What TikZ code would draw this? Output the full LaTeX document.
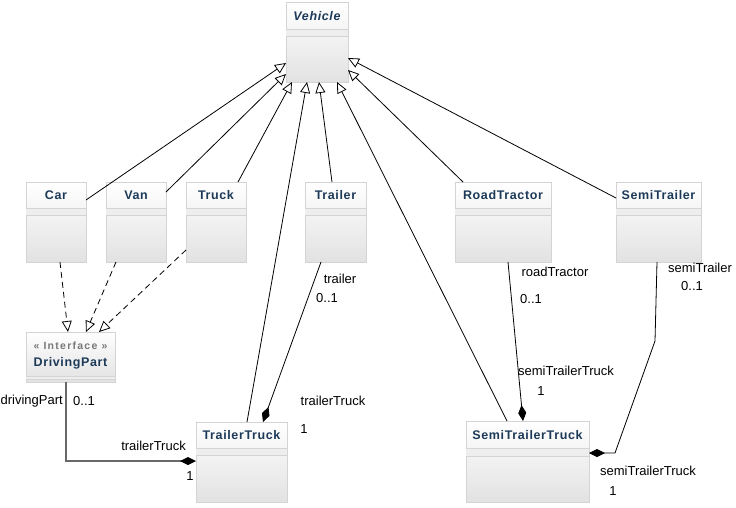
\documentclass[tikz,border=0pt]{standalone}
\usepackage{fontspec}
\setmainfont{Liberation Sans}
\newfontfamily\ttlfont[LetterSpace=5]{Liberation Sans}
\newfontfamily\sterfont[LetterSpace=12]{Liberation Sans}
\usetikzlibrary{arrows.meta,fit,calc}
\definecolor{ttl}{RGB}{28,58,88}
\definecolor{bord}{RGB}{212,212,212}
\definecolor{shadebot}{RGB}{226,226,226}
\definecolor{bandc}{RGB}{238,238,238}
\definecolor{stereo}{RGB}{120,120,120}
\definecolor{assoc}{RGB}{105,105,105}
\newcommand\classparts[3]{%
  \fill[bandc] ($(#1.north west)+(0.4,#2)$) rectangle ($(#1.north east)+(-0.4,#3)$);
  \draw[sepline] ($(#1.north west)+(0,#2)$) -- ($(#1.north east)+(0,#2)$);
  \draw[sepline] ($(#1.north west)+(0,#3)$) -- ($(#1.north east)+(0,#3)$);}
\begin{document}
\begin{tikzpicture}[x=1pt,y=-1pt,
  classbox/.style={draw=bord, line width=0.9pt, inner sep=0pt, outer sep=0pt,
    top color=white, bottom color=shadebot},
  sepline/.style={draw=bord, line width=0.9pt},
  ttlstyle/.style={font=\ttlfont\bfseries\fontsize{12.5}{14}\selectfont, text=ttl, inner sep=0pt},
  lbl/.style={font=\fontsize{13}{15}\selectfont, inner sep=0pt},
  gen/.style={draw=black, line width=0.8pt, -{Triangle[length=11pt,width=10pt,fill=white]}},
  real/.style={draw=black, line width=0.8pt, dash pattern=on 6pt off 4pt,
    -{Triangle[length=11pt,width=10pt,fill=white,sep=0pt]}},
  comp/.style={draw=black, line width=0.8pt, -{Diamond[length=16pt,width=8pt,fill=black]}},
  compg/.style={draw=assoc, line width=1.4pt, -{Diamond[length=16pt,width=8pt,fill=black,color=black]}},
]
\useasboundingbox (0,0) rectangle (736,507);
\fill[white] (0,0) rectangle (736,507);

% classes
\node[classbox, fit={(286,2)(348,82)}] (vehicle) {};
\classparts{vehicle}{27}{34}
\node[ttlstyle, font=\ttlfont\bfseries\itshape\fontsize{12.5}{14}\selectfont] (vehiclet) at ($(vehicle.north)+(0,14)$) {Vehicle};

\node[classbox, fit={(26,182)(86,262)}] (car) {};
\classparts{car}{26}{33}
\node[ttlstyle] (cart) at ($(car.north)+(0,13)$) {Car};

\node[classbox, fit={(106,182)(166,262)}] (van) {};
\classparts{van}{26}{33}
\node[ttlstyle] (vant) at ($(van.north)+(0,13)$) {Van};

\node[classbox, fit={(186,182)(246,262)}] (truck) {};
\classparts{truck}{26}{33}
\node[ttlstyle] (truckt) at ($(truck.north)+(0,13)$) {Truck};

\node[classbox, fit={(305,182)(366,262)}] (trailer) {};
\classparts{trailer}{26}{33}
\node[ttlstyle] (trailert) at ($(trailer.north)+(0,13)$) {Trailer};

\node[classbox, fit={(455,182)(551,262)}] (rt) {};
\classparts{rt}{26}{33}
\node[ttlstyle] (rtt) at ($(rt.north)+(0,13)$) {RoadTractor};

\node[classbox, fit={(616,182)(701,262)}] (st) {};
\classparts{st}{26}{33}
\node[ttlstyle] (stt0) at ($(st.north)+(0,13)$) {SemiTrailer};

\node[classbox, fit={(26,332)(115,382)}] (dp) {};
\classparts{dp}{44}{47}
\node[font=\sterfont\bfseries\fontsize{10.5}{12}\selectfont, text=stereo, inner sep=0pt] (dps) at ($(dp.north)+(0,14)$) {« Interface »};
\node[ttlstyle] (dpt) at ($(dp.north)+(0,31)$) {DrivingPart};

\node[classbox, fit={(196,422)(287,502)}] (tt) {};
\classparts{tt}{26}{33}
\node[ttlstyle] (ttt) at ($(tt.north)+(0,13)$) {TrailerTruck};

\node[classbox, fit={(466,421)(589,502)}] (stt) {};
\classparts{stt}{27}{35}
\node[ttlstyle] (sttt) at ($(stt.north)+(0,14)$) {SemiTrailerTruck};

% generalizations
\draw[gen] ($(car.north east)+(0,18)$) -- ($(vehicle.north west)+(0,61)$);
\draw[gen] ($(van.north east)+(0,10)$) -- ($(vehicle.north west)+(0,72)$);
\draw[gen] ($(truck.north east)+(-8,0)$) -- ($(vehicle.south west)+(6,0)$);
\draw[gen] ($(tt.north west)+(51,0)$) -- ($(vehicle.south west)+(21,0)$);
\draw[gen] ($(trailer.north west)+(27,0)$) -- ($(vehicle.south west)+(33,0)$);
\draw[gen] ($(stt.north west)+(41,0)$) -- ($(vehicle.south west)+(51,0)$);
\draw[gen] ($(rt.north west)+(8,0)$) -- ($(vehicle.north east)+(0,68)$);
\draw[gen] ($(st.north west)+(0,16)$) -- ($(vehicle.north east)+(0,56)$);

% realizations
\draw[real] ($(car.south west)+(34,0)$) -- ($(dp.north west)+(42,0)$);
\draw[real] ($(van.south west)+(10,0)$) -- ($(dp.north west)+(60,0)$);
\draw[real] ($(truck.south west)+(0,-12)$) -- ($(dp.north west)+(73,0)$);

% compositions
\draw[compg] ($(dp.south west)+(40,0)$) |- ($(tt.north west)+(0,39)$);
\draw[comp] ($(trailer.south west)+(16,0)$) -- ($(tt.north west)+(67,0)$);
\draw[comp] ($(rt.south west)+(53,0)$) -- ($(stt.north west)+(57,0)$);
\coordinate (b1) at (655,341);
\coordinate (b2) at (615,453);
\draw[comp] ($(st.south west)+(41,0)$) -- (b1) -- (b2) -- ($(stt.north east)+(0,32)$);

% labels
\node[lbl, anchor=east] (l1) at (63,401) {drivingPart};
\node[lbl, anchor=west] (l2) at (73,401) {0..1};
\node[lbl, anchor=east] (l3) at (186,446) {trailerTruck};
\node[lbl] (l4) at (190,476) {1};
\node[lbl] (l5) at (340,279) {trailer};
\node[lbl] (l6) at (327,298) {0..1};
\node[lbl] (l7) at (333,401) {trailerTruck};
\node[lbl] (l8) at (304,429) {1};
\node[lbl] (l9) at (555,272) {roadTractor};
\node[lbl] (l10) at (531,299) {0..1};
\node[lbl] (l11) at (566,371) {semiTrailerTruck};
\node[lbl] (l12) at (541,391) {1};
\node[lbl] (l13) at (700,268) {semiTrailer};
\node[lbl] (l14) at (692,286) {0..1};
\node[lbl] (l15) at (648,471) {semiTrailerTruck};
\node[lbl] (l16) at (613,491) {1};
\end{tikzpicture}
\end{document}
